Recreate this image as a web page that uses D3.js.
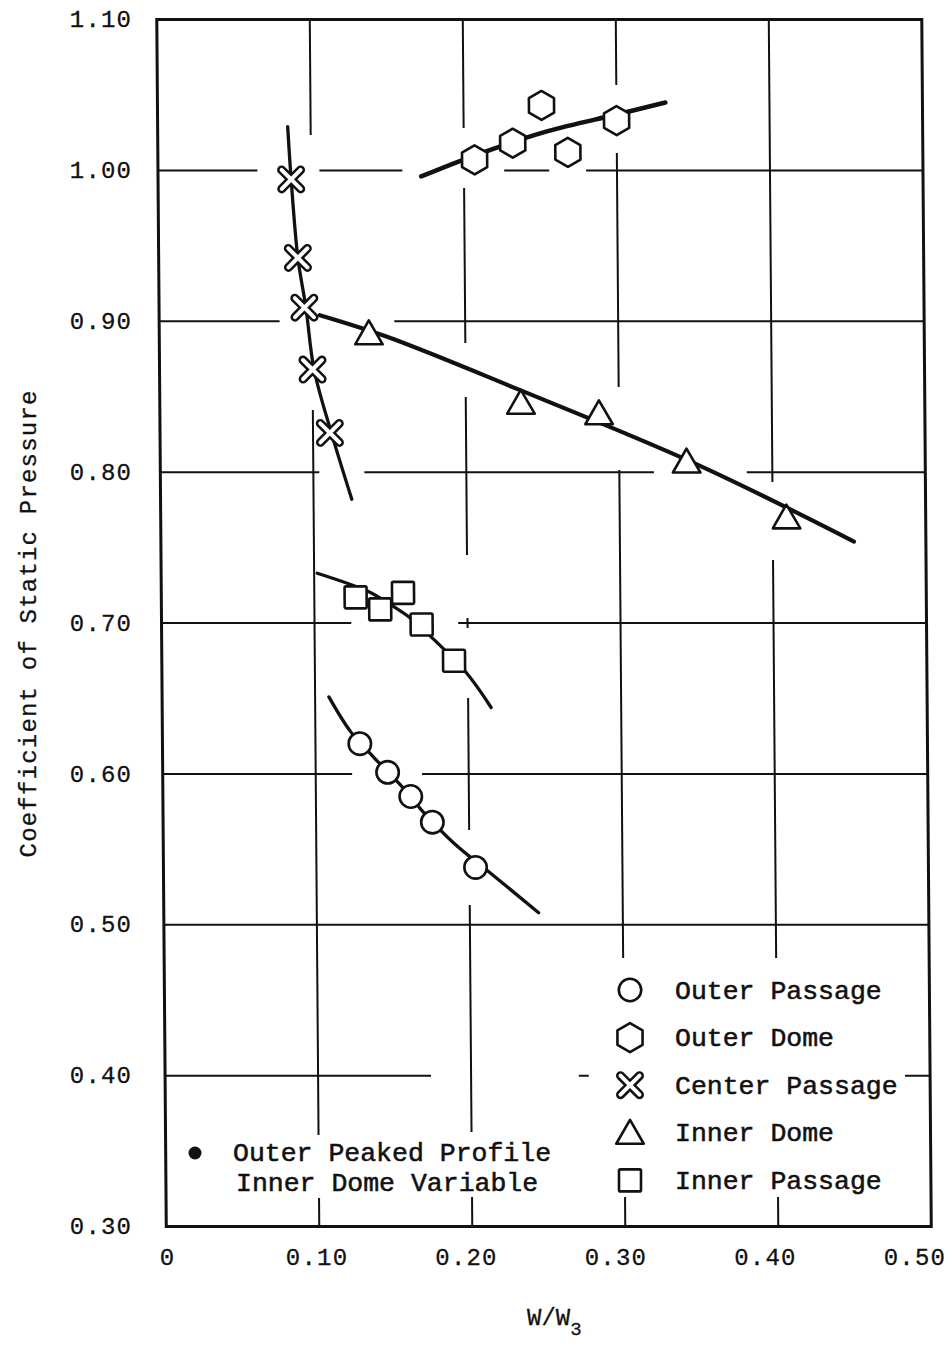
<!DOCTYPE html>
<html>
<head>
<meta charset="utf-8">
<script src="https://cdn.jsdelivr.net/npm/d3@7"></script>
<style>
  html, body { margin: 0; padding: 0; background: #fff; }
  svg { display: block; }
  text { font-family: "Liberation Mono", "Courier New", monospace; fill: #111; }
</style>
</head>
<body>
<svg id="chart" width="950" height="1345"></svg>
<script>
// ---- axis ticks ----
const wTicks = [0, 0.10, 0.20, 0.30, 0.40, 0.50];
const wTickLabels = ["0", "0.10", "0.20", "0.30", "0.40", "0.50"];
const cpTicks = [1.10, 1.00, 0.90, 0.80, 0.70, 0.60, 0.50, 0.40, 0.30];
const cpTickLabels = ["1.10", "1.00", "0.90", "0.80", "0.70", "0.60", "0.50", "0.40", "0.30"];

// ---- series (measured points) ----
const seriesNames = ["Outer Passage", "Outer Dome", "Center Passage", "Inner Dome", "Inner Passage"];

const outerPassageW  = [0.129, 0.147, 0.162, 0.176, 0.204];
const outerPassageCp = [0.620, 0.601, 0.585, 0.568, 0.538];

const outerDomeW  = [0.207, 0.232, 0.251, 0.268, 0.300];
const outerDomeCp = [1.007, 1.018, 1.043, 1.012, 1.033];

const centerPassageW  = [0.087, 0.091, 0.095, 0.100, 0.111];
const centerPassageCp = [0.994, 0.942, 0.909, 0.868, 0.826];

const innerDomeW  = [0.137, 0.236, 0.287, 0.344, 0.409];
const innerDomeCp = [0.890, 0.844, 0.837, 0.805, 0.768];

const innerPassageW  = [0.127, 0.143, 0.158, 0.170, 0.191];
const innerPassageCp = [0.717, 0.709, 0.720, 0.699, 0.675];

// ---- faired curves ----
const outerPassageFitW  = [0.109, 0.123, 0.138, 0.155, 0.169, 0.190, 0.214, 0.245];
const outerPassageFitCp = [0.651, 0.628, 0.611, 0.593, 0.576, 0.554, 0.534, 0.508];

const outerDomeFitW  = [0.172, 0.210, 0.255, 0.300, 0.332];
const outerDomeFitCp = [0.996, 1.011, 1.026, 1.037, 1.045];

const centerPassageFitW  = [0.085, 0.087, 0.091, 0.096, 0.101, 0.112, 0.125];
const centerPassageFitCp = [1.029, 0.994, 0.942, 0.909, 0.868, 0.826, 0.782];

const innerDomeFitW  = [0.105, 0.148, 0.234, 0.351, 0.453];
const innerDomeFitCp = [0.904, 0.890, 0.855, 0.805, 0.754];

const innerPassageFitW  = [0.102, 0.135, 0.150, 0.163, 0.176, 0.199, 0.215];
const innerPassageFitCp = [0.733, 0.721, 0.712, 0.703, 0.691, 0.667, 0.644];

// ---- note ----
const noteLines = ["Outer Peaked Profile", "Inner Dome Variable"];

// ---- grid rulings, broken where they would run into marks or legends ----
const hRuns = [
  { cp: 1.00, runs: [[0, 0.065], [0.1055, 0.1597], [0.2263, 0.2557], [0.2798, 0.5]] },
  { cp: 0.90, runs: [[0, 0.0787], [0.1537, 0.5]] },
  { cp: 0.80, runs: [[0, 0.1039], [0.1333, 0.3226], [0.3833, 0.5]] },
  { cp: 0.70, runs: [[0, 0.124], [0.1939, 0.5]] },
  { cp: 0.60, runs: [[0, 0.1238], [0.1695, 0.5]] },
  { cp: 0.50, runs: [[0, 0.5]] },
  { cp: 0.40, runs: [[0, 0.1738], [0.2704, 0.2769], [0.4836, 0.5]] }
];
const vRuns = [
  { w: 0.10, runs: [[1.10, 1.0234], [0.8412, 0.3607], [0.3189, 0.30]] },
  { w: 0.20, runs: [[1.10, 1.0281], [0.9883, 0.8856], [0.8498, 0.7451], [0.7033, 0.6967], [0.6503, 0.5628], [0.5131, 0.3626], [0.3196, 0.30]] },
  { w: 0.30, runs: [[1.10, 1.0566], [1.0115, 0.8564], [0.8014, 0.478], [0.3196, 0.30]] },
  { w: 0.40, runs: [[1.10, 0.7935], [0.7418, 0.478], [0.3196, 0.30]] }
];

// ---- layout ----
const svg = d3.select("#chart");
const x = d3.scaleLinear().domain([0, 0.5]).range([161.5, 926.5]);
const y = d3.scaleLinear().domain([0.30, 1.10]).range([1226.5, 19.5]);
const xLabel = d3.scaleLinear().domain([0, 0.5]).range([166.5, 913.8]);

const INK = "#111";
const tickFont = 24, tickSpacing = 1.2;

// plot body, with the slight lean of the ruled sheet
const plot = svg.append("g")
  .attr("transform", "translate(0,620) skewX(0.45) translate(0,-620)");

// grid
const grid = plot.append("g").attr("stroke", INK).attr("stroke-width", 2).attr("fill", "none");
hRuns.forEach(h => h.runs.forEach(r => {
  grid.append("line")
    .attr("x1", x(r[0])).attr("x2", x(r[1]))
    .attr("y1", y(h.cp)).attr("y2", y(h.cp));
}));
vRuns.forEach(v => v.runs.forEach(r => {
  grid.append("line")
    .attr("x1", x(v.w)).attr("x2", x(v.w))
    .attr("y1", y(r[0])).attr("y2", y(r[1]));
}));

// frame
plot.append("rect")
  .attr("x", x(0)).attr("y", y(1.10))
  .attr("width", x(0.5) - x(0)).attr("height", y(0.30) - y(1.10))
  .attr("fill", "none").attr("stroke", INK).attr("stroke-width", 3);

// faired curves
const line = d3.line().x(d => x(d[0])).y(d => y(d[1])).curve(d3.curveCatmullRom.alpha(0.5));
const curves = [
  { w: outerPassageFitW, cp: outerPassageFitCp, sw: 3.3 },
  { w: outerDomeFitW, cp: outerDomeFitCp, sw: 4.5 },
  { w: centerPassageFitW, cp: centerPassageFitCp, sw: 3.3 },
  { w: innerDomeFitW, cp: innerDomeFitCp, sw: 4.2 },
  { w: innerPassageFitW, cp: innerPassageFitCp, sw: 3.3 }
];
curves.forEach(c => {
  plot.append("path")
    .datum(d3.zip(c.w, c.cp))
    .attr("d", line)
    .attr("fill", "none").attr("stroke", INK)
    .attr("stroke-width", c.sw).attr("stroke-linecap", "round").attr("stroke-linejoin", "round");
});

// marker shapes
function hexagonPath(r) {
  const pts = d3.range(6).map(i => {
    const a = (-90 + 60 * i) * Math.PI / 180;
    return [r * Math.cos(a), r * Math.sin(a)];
  });
  return "M" + pts.map(p => p.join(",")).join("L") + "Z";
}
function trianglePath(s) {
  const h = s * Math.sqrt(3) / 2;
  return `M0,${-2 * h / 3}L${s / 2},${h / 3}L${-s / 2},${h / 3}Z`;
}
function drawMarker(g, kind, cx, cy) {
  const m = g.append("g").attr("transform", `translate(${cx},${cy})`);
  const style = sel => sel.attr("fill", "#fff").attr("stroke", INK).attr("stroke-width", 2.6).attr("stroke-linejoin", "round");
  if (kind === "circle") {
    m.append("circle").attr("r", 11.2).call(style);
  } else if (kind === "hexagon") {
    m.append("path").attr("d", hexagonPath(14.5)).call(style);
  } else if (kind === "triangle") {
    m.append("path").attr("d", trianglePath(27.5)).call(style);
  } else if (kind === "square") {
    m.append("rect").attr("x", -11).attr("y", -11).attr("width", 22).attr("height", 22).attr("rx", 1.5).call(style);
  } else if (kind === "cross") {
    const a = 9.5;
    const d = `M${-a},${-a}L${a},${a}M${-a},${a}L${a},${-a}`;
    m.append("path").attr("d", d).attr("stroke", INK).attr("stroke-width", 9).attr("stroke-linecap", "round").attr("fill", "none");
    m.append("path").attr("d", d).attr("stroke", "#fff").attr("stroke-width", 4).attr("stroke-linecap", "round").attr("fill", "none");
  }
}

const pointSets = [
  { w: outerPassageW, cp: outerPassageCp, kind: "circle" },
  { w: outerDomeW, cp: outerDomeCp, kind: "hexagon" },
  { w: centerPassageW, cp: centerPassageCp, kind: "cross" },
  { w: innerDomeW, cp: innerDomeCp, kind: "triangle" },
  { w: innerPassageW, cp: innerPassageCp, kind: "square" }
];
pointSets.forEach(s => {
  s.w.forEach((w, i) => drawMarker(plot, s.kind, x(w), y(s.cp[i])));
});

// ---- axes ----
const yAxis = svg.append("g")
  .attr("transform", `translate(${x(0)},0)`)
  .call(d3.axisLeft(y).tickValues(cpTicks).tickFormat((d, i) => cpTickLabels[i]).tickSize(0).tickPadding(29));
yAxis.select(".domain").remove();
yAxis.selectAll("text")
  .attr("font-family", "Liberation Mono, Courier New, monospace")
  .attr("font-size", tickFont).attr("letter-spacing", tickSpacing)
  .attr("fill", INK).attr("stroke", INK).attr("stroke-width", 0.3)
  .attr("x", -(x(0) - 131) + tickSpacing).attr("dy", "0.3em");

const xAxis = svg.append("g")
  .attr("transform", `translate(0,${y(0.30)})`)
  .call(d3.axisBottom(xLabel).tickValues(wTicks).tickFormat((d, i) => wTickLabels[i]).tickSize(0).tickPadding(0));
xAxis.select(".domain").remove();
xAxis.selectAll("text")
  .attr("font-family", "Liberation Mono, Courier New, monospace")
  .attr("font-size", tickFont).attr("letter-spacing", tickSpacing)
  .attr("fill", INK).attr("stroke", INK).attr("stroke-width", 0.3)
  .attr("y", 38).attr("dy", 0).attr("dx", tickSpacing / 2);

// axis titles
svg.append("text")
  .attr("transform", "translate(36,624) rotate(-90)")
  .attr("text-anchor", "middle")
  .attr("font-size", tickFont).attr("letter-spacing", tickSpacing)
  .attr("stroke", INK).attr("stroke-width", 0.3)
  .attr("dx", tickSpacing / 2)
  .text("Coefficient of Static Pressure");

const xt = svg.append("text")
  .attr("x", 527).attr("y", 1325)
  .attr("font-size", 24).attr("letter-spacing", 0)
  .attr("stroke", INK).attr("stroke-width", 0.3);
xt.append("tspan").text("W/W");
xt.append("tspan").attr("dy", 10).attr("font-size", 19).text("3");

// ---- legend ----
const legendKinds = ["circle", "hexagon", "cross", "triangle", "square"];
const legend = svg.append("g").attr("transform", "translate(630,990)");
seriesNames.forEach((name, i) => {
  const ry = i * 47.6;
  drawMarker(legend, legendKinds[i], 0, ry + (legendKinds[i] === "triangle" ? 3 : 0));
  legend.append("text")
    .attr("x", 45).attr("y", ry + 8.5)
    .attr("font-size", 26.5)
    .attr("stroke", INK).attr("stroke-width", 0.55)
    .text(name);
});

// note with solid dot
const note = svg.append("g");
note.append("circle").attr("cx", 195).attr("cy", 1153).attr("r", 6.5).attr("fill", INK);
noteLines.forEach((t, i) => {
  note.append("text")
    .attr("x", 233 + i * 3).attr("y", 1161 + i * 30)
    .attr("font-size", 26.5)
    .attr("stroke", INK).attr("stroke-width", 0.55)
    .text(t);
});
</script>
</body>
</html>
